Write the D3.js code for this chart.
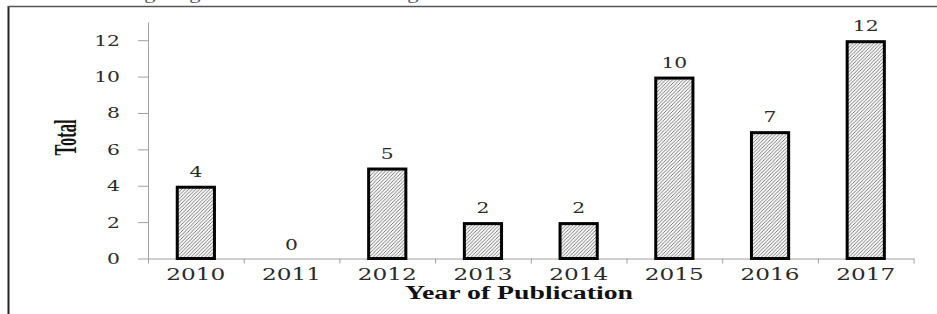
<!DOCTYPE html>
<html>
<head>
<meta charset="utf-8">
<script src="https://cdn.jsdelivr.net/npm/d3@7"></script>
<style>
  html, body { margin: 0; padding: 0; background: #fff; }
  svg { display: block; }
</style>
</head>
<body>
<svg id="chart" width="937" height="314"></svg>
<script>
// data
var years = ["2010", "2011", "2012", "2013", "2014", "2015", "2016", "2017"];
var totals = [4, 0, 5, 2, 2, 10, 7, 12];
var yTicks = [0, 2, 4, 6, 8, 10, 12];

var W = 937, H = 314,
	plotLeft = 148, plotRight = 913.6,
	plotTop = 22, base = 258.5,
	sx = 1.45; // the figure is stretched sideways

var svg = d3.select("#chart");

var x = d3.scaleBand().domain(years).range([plotLeft, plotRight])
	.paddingInner(0.58).paddingOuter(0.29);
var xEdge = d3.scaleLinear().domain([0, years.length]).range([plotLeft, plotRight]);
var y = d3.scaleLinear().domain([0, 13]).range([base, plotTop]);

// hatch fill
var defs = svg.append("defs");
var pat = defs.append("pattern")
	.attr("id", "hatch")
	.attr("patternUnits", "userSpaceOnUse")
	.attr("width", 3.5)
	.attr("height", 3.5);
pat.append("rect").attr("width", 3.5).attr("height", 3.5).attr("fill", "#f7f7f7");
pat.append("path")
	.attr("d", "M-1,1 l2,-2 M0,3.5 l3.5,-3.5 M2.5,4.5 l2,-2")
	.attr("stroke", "#555")
	.attr("stroke-width", 0.75);

// clipped line of page text above the figure, only the descenders show
svg.append("text")
	.attr("x", 6)
	.attr("y", -1.5)
	.attr("font-family", "Liberation Serif")
	.attr("font-size", 16)
	.attr("fill", "#555")
	.attr("textLength", 470)
	.attr("lengthAdjust", "spacingAndGlyphs")
	.text("relevant investigating review and data mining of the");

// frame of the figure
svg.append("line")
	.attr("x1", 8.5).attr("y1", 6).attr("x2", 8.5).attr("y2", H)
	.attr("stroke", "#222").attr("stroke-width", 2);
svg.append("line")
	.attr("x1", 8).attr("y1", 6.5).attr("x2", W).attr("y2", 6.5)
	.attr("stroke", "#555").attr("stroke-width", 1.3);

// y axis
var gy = svg.append("g")
	.attr("transform", "translate(" + plotLeft + ",0)")
	.call(d3.axisLeft(y).tickValues(yTicks).tickSize(10).tickSizeOuter(0));
gy.select(".domain").attr("stroke", "#a0a0a0");
gy.selectAll(".tick line").attr("stroke", "#a0a0a0");
gy.selectAll(".tick text")
	.attr("x", -28 / sx)
	.attr("dy", "0.35em")
	.attr("transform", "scale(" + sx + ",1)")
	.attr("font-family", "DejaVu Serif")
	.attr("font-size", 14)
	.attr("fill", "#2a2a2a");

// x axis: edge ticks and category labels
var gxe = svg.append("g")
	.attr("transform", "translate(0," + base + ")")
	.call(d3.axisBottom(xEdge).ticks(years.length).tickSize(5).tickSizeOuter(0).tickFormat(""));
gxe.select(".domain").attr("stroke", "#a0a0a0");
gxe.selectAll(".tick line").attr("stroke", "#a0a0a0");

var gx = svg.append("g")
	.attr("transform", "translate(0," + base + ")")
	.call(d3.axisBottom(x).tickSize(0).tickPadding(21.5));
gx.select(".domain").remove();
gx.selectAll(".tick text")
	.attr("dy", null)
	.attr("transform", "scale(" + sx + ",1)")
	.attr("font-family", "DejaVu Serif")
	.attr("font-size", 16)
	.attr("fill", "#2a2a2a");

// bars
var rows = years.map(function(d, i) { return {year: d, v: totals[i]}; });

svg.append("g").selectAll("rect")
	.data(rows.filter(function(d) { return d.v > 0; }))
	.join("rect")
	.attr("x", function(d) { return x(d.year) + 1.5; })
	.attr("y", function(d) { return y(d.v) + 1.5; })
	.attr("width", x.bandwidth() - 3)
	.attr("height", function(d) { return base - y(d.v) - 1.5; })
	.attr("fill", "url(#hatch)")
	.attr("stroke", "#000")
	.attr("stroke-width", 3);

// value labels
svg.append("g").selectAll("text")
	.data(rows)
	.join("text")
	.attr("transform", function(d) {
		return "translate(" + (x(d.year) + x.bandwidth() / 2) + "," + (y(d.v) - 9) + ") scale(" + sx + ",1)";
	})
	.attr("text-anchor", "middle")
	.attr("font-family", "DejaVu Serif")
	.attr("font-size", 14)
	.attr("fill", "#2a2a2a")
	.text(function(d) { return d.v; });

// axis titles
svg.append("text")
	.attr("x", 519)
	.attr("y", 299)
	.attr("text-anchor", "middle")
	.attr("font-family", "Liberation Serif")
	.attr("font-weight", "bold")
	.attr("font-size", 18)
	.attr("textLength", 228)
	.attr("lengthAdjust", "spacingAndGlyphs")
	.attr("fill", "#111")
	.text("Year of Publication");

svg.append("text")
	.attr("transform", "translate(76,137.5) rotate(-90) scale(1,1.5)")
	.attr("text-anchor", "middle")
	.attr("font-family", "Liberation Serif")
	.attr("font-weight", "bold")
	.attr("font-size", 21)
	.attr("textLength", 36)
	.attr("lengthAdjust", "spacingAndGlyphs")
	.attr("fill", "#111")
	.text("Total");
</script>
</body>
</html>
